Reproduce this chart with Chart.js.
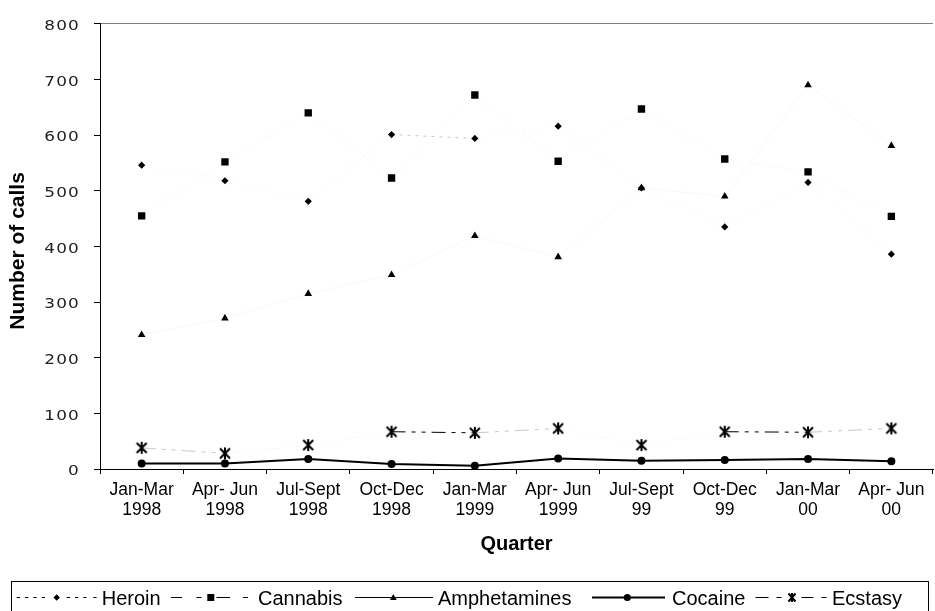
<!DOCTYPE html>
<html>
<head>
<meta charset="utf-8">
<script src="https://cdn.jsdelivr.net/npm/chart.js@4"></script>
<style>
  html, body { margin: 0; padding: 0; background: #fff; overflow: hidden; width: 935px; height: 611px; }
  #wrap { position: absolute; left: 0; top: 0; width: 940px; height: 560px; }
  #legendBox { position: absolute; left: 11px; top: 581px; width: 918px; height: 40px; box-sizing: border-box; border: 1px solid #000; }
  .lt { position: absolute; top: 586px; font-family: "Liberation Sans", Arial, sans-serif; font-size: 20px; line-height: 24px; color: #000; white-space: nowrap; }
  #legendSvg { position: absolute; left: 0; top: 0; }
</style>
</head>
<body>
<div id="wrap"><canvas id="c" width="940" height="560"></canvas></div>
<div id="legendBox"></div>
<svg id="legendSvg" width="935" height="611" viewBox="0 0 935 611">
  <g stroke="#000" stroke-width="1" fill="none">
    <path d="M16.7 597.5h3.3M25 597.5h3.3M33.3 597.5h3.3M41.7 597.5h3.3M66.7 597.5h3.3M75 597.5h3.3M83.3 597.5h3.3M93.3 597.5h3.3"/>
    <path d="M171 597.5h11M196.5 597.5h5M216.5 597.5h13.5M243 597.5h5"/>
    <path d="M355 597.5H433"/>
    <path d="M592 597.5H665" stroke-width="2"/>
    <path d="M755.5 597.5h13M776.5 597.5h5M801.5 597.5h12M821.5 597.5h5"/>
  </g>
  <g fill="#000">
    <path d="M56.7 594.3L59.9 597.5L56.7 600.7L53.5 597.5Z"/>
    <rect x="207.3" y="594" width="7" height="7"/>
    <path d="M393.3 594L396.7 600L389.9 600Z"/>
    <circle cx="627.3" cy="597.5" r="3.6"/>
  </g>
  <g stroke="#000" stroke-width="2" fill="none">
    <path d="M788.5 593.5L795.5 601.5M795.5 593.5L788.5 601.5M792 593V602"/>
  </g>
</svg>
<span class="lt" style="left:101.7px">Heroin</span>
<span class="lt" style="left:258px">Cannabis</span>
<span class="lt" style="left:438px">Amphetamines</span>
<span class="lt" style="left:672px">Cocaine</span>
<span class="lt" style="left:832px">Ecstasy</span>
<script>
// ---- data ----
const categories = [
  ['Jan-Mar', '1998'], ['Apr- Jun', '1998'], ['Jul-Sept', '1998'], ['Oct-Dec', '1998'],
  ['Jan-Mar', '1999'], ['Apr- Jun', '1999'], ['Jul-Sept', '99'], ['Oct-Dec', '99'],
  ['Jan-Mar', '00'], ['Apr- Jun', '00']
];
const heroin       = [546, 518, 481, 601, 594, 616, 505, 435, 515, 386];
const cannabis     = [455, 552, 640, 523, 672, 553, 647, 557, 534, 454];
const amphetamines = [241, 271, 315, 349, 419, 381, 505, 490, 690, 581];
const cocaine      = [10, 10, 18, 9, 6, 19, 15, 16, 18, 14];
const ecstasy      = [38, 28, 43, 67, 65, 73, 43, 67, 66, 73];
const yTicks       = [0, 100, 200, 300, 400, 500, 600, 700, 800];

// star-like marker (X with vertical bar)
function makeStar() {
  const cv = document.createElement('canvas');
  cv.width = 14; cv.height = 14;
  const c = cv.getContext('2d');
  c.strokeStyle = '#000'; c.lineWidth = 2;
  c.beginPath();
  c.moveTo(2, 2); c.lineTo(12, 12);
  c.moveTo(12, 2); c.lineTo(2, 12);
  c.moveTo(7, 1); c.lineTo(7, 13);
  c.stroke();
  return cv;
}

// thin lines render faintly except when nearly horizontal (as in reference)
function segColor(ctx) {
  const dy = Math.abs(ctx.p1.y - ctx.p0.y);
  if (dy < 2) return '#000';
  if (dy < 6) return '#c8c8c8';
  return '#f8f8f8';
}

const common = { pointBorderWidth: 0, pointHoverRadius: 0, fill: false, tension: 0 };

const chart = new Chart(document.getElementById('c'), {
  type: 'line',
  data: {
    labels: categories,
    datasets: [
      Object.assign({ label: 'Heroin', data: heroin, borderColor: '#000', borderWidth: 1, borderDash: [3, 5],
        pointStyle: 'rectRot', pointRadius: 3.6, pointBackgroundColor: '#000', segment: { borderColor: segColor } }, common),
      Object.assign({ label: 'Cannabis', data: cannabis, borderColor: '#000', borderWidth: 1, borderDash: [10, 5, 4, 5],
        pointStyle: 'rect', pointRadius: 5.2, pointBackgroundColor: '#000', segment: { borderColor: segColor } }, common),
      Object.assign({ label: 'Amphetamines', data: amphetamines, borderColor: '#000', borderWidth: 1,
        pointStyle: 'triangle', pointRadius: 4.4, pointBackgroundColor: '#000', segment: { borderColor: segColor } }, common),
      Object.assign({ label: 'Cocaine', data: cocaine, borderColor: '#000', borderWidth: 2,
        pointStyle: 'circle', pointRadius: 4, pointBackgroundColor: '#000' }, common),
      Object.assign({ label: 'Ecstasy', data: ecstasy, borderColor: '#000', borderWidth: 1, borderDash: [14, 6, 4, 6, 4, 6],
        pointStyle: makeStar(), pointRadius: 7, segment: { borderColor: segColor } }, common)
    ]
  },
  options: {
    responsive: false,
    animation: false,
    events: [],
    layout: { padding: { top: 15, right: 2, left: 0, bottom: 0 } },
    plugins: { legend: { display: false }, tooltip: { enabled: false } },
    scales: {
      x: {
        offset: true,
        grid: { offset: true, color: 'rgba(0,0,0,0)', tickColor: '#000', tickLength: 5, drawTicks: true },
        border: { color: '#000', width: 1 },
        ticks: { autoSkip: false, maxRotation: 0, minRotation: 0, padding: 6.3, color: '#000',
          font: { family: '"Liberation Sans", Arial, sans-serif', size: 17.5, lineHeight: '20px' } },
        title: { display: true, text: 'Quarter', color: '#000', padding: { top: 0, bottom: 4 },
          font: { family: '"Liberation Sans", Arial, sans-serif', size: 20, weight: 'bold', lineHeight: 1.2 } },
        afterFit: (s) => { s.height = 91; }
      },
      y: {
        min: 0, max: 800,
        afterBuildTicks: (s) => { s.ticks = yTicks.map(v => ({ value: v })); },
        grid: {
          color: (c) => (c.tick && c.tick.value === 800 ? '#808080' : 'rgba(0,0,0,0)'),
          tickColor: '#000', tickLength: 6, drawTicks: true
        },
        border: { color: '#000', width: 1 },
        ticks: { padding: 15, color: '#222',
          font: { family: '"DejaVu Sans", sans-serif', size: 14.7 } },
        title: { display: true, text: 'Number of calls', color: '#000', padding: { top: 6, bottom: 0 },
          font: { family: '"Liberation Sans", Arial, sans-serif', size: 21, weight: 'bold', lineHeight: 1.2 } },
        afterFit: (s) => { s.width = 100; }
      }
    }
  }
});

// widened, slightly spaced y tick labels with small vertical offset, as in reference
const ys = chart.scales.y;
const origLabels = ys.drawLabels.bind(ys);
ys.drawLabels = function (area) {
  const c = this.ctx;
  const ax = this.right - 6 - 15;
  c.save();
  try { c.letterSpacing = '1px'; } catch (e) {}
  c.translate(ax + 1, 2.5); c.scale(1.15, 1); c.translate(-ax, 0);
  origLabels(area);
  c.restore();
};
const origTitle = ys.drawTitle.bind(ys);
ys.drawTitle = function () {
  const c = this.ctx; c.save(); c.translate(0, 4.5); origTitle(); c.restore();
};
chart.draw();
</script>
</body>
</html>
